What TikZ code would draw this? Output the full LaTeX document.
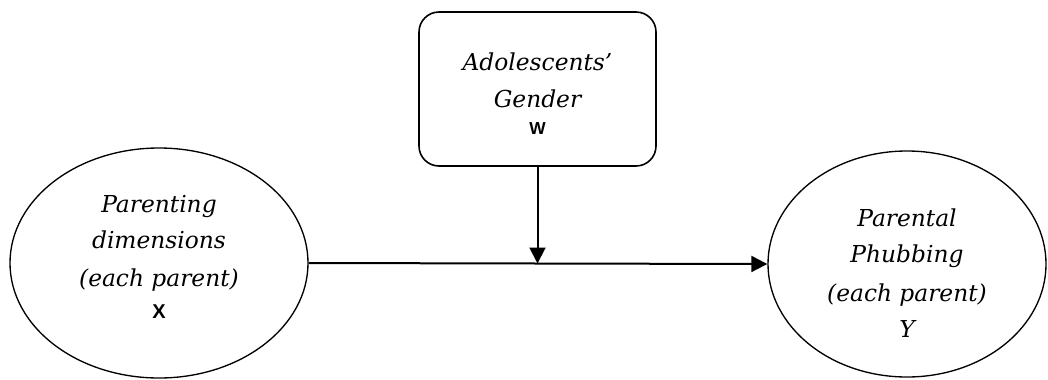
\documentclass[tikz,border=0pt]{standalone}
\usepackage{fontspec}
\setmainfont{DejaVu Serif}
\newfontfamily\varbold{Liberation Sans Bold}
\usetikzlibrary{shapes.geometric,arrows.meta,calc}

\newcommand{\varname}[2][12]{{\varbold\upshape\fontsize{#1}{14}\selectfont #2}}

\begin{document}
\begin{tikzpicture}[x=.75pt, y=-.75pt, line join=round, >={Triangle[length=12pt,width=12pt]}]

	\tikzset{latent/.style={draw, ellipse, line width=1pt, inner sep=0pt},
		moder/.style={draw, rounded corners=15pt, line width=1.2pt, inner sep=0pt, align=center, font=\fontsize{17.5pt}{27pt}\selectfont\itshape},
		lbl/.style={align=center, inner sep=0pt, font=\fontsize{17.5pt}{27pt}\selectfont\itshape},
		conn/.style={->, line width=1.5pt}}

	\useasboundingbox (0,0) rectangle (1048,379);
	\clip (0,0) rectangle (1048,379);

	% moderator
	\node[moder, minimum width=177.75pt, minimum height=115.5pt] (W) at (537.5,89) {\rule{0pt}{20pt}Adolescents’\\[1pt]Gender\\[-7pt]\varname[13]{W}};
	% predictor and outcome
	\node[latent, minimum width=223.5pt, minimum height=172.5pt] (X) at (159,263) {};
	\node[lbl] (Xtxt) at ($(X)+(0,-6)$) {Parenting\\dimensions\\[2pt](each parent)\\[-3pt]\varname[15]{X}};
	\node[latent, minimum width=208.5pt, minimum height=169.5pt] (Y) at (907,264) {};
	\node[lbl] (Ytxt) at ($(Y)+(0,9)$) {Parental\\Phubbing\\[2pt](each parent)\\Y};

	\coordinate (mid) at ($(X.east)!.5!(Y.west)$);
	\draw[conn] (X.east) -- (Y.west);
	\draw[conn] (W.south) -- (W.south |- mid);
\end{tikzpicture}
\end{document}
